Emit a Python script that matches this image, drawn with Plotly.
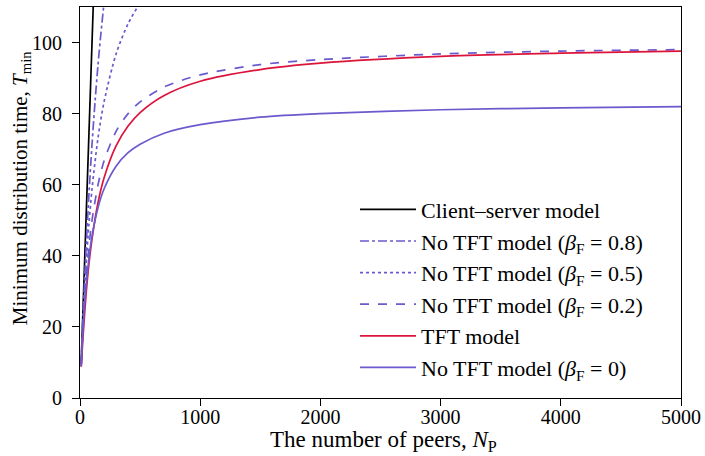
import plotly.graph_objects as go

# Number of peers (x samples)
n_peers = [10, 25, 50, 75, 100, 150, 200, 300, 400, 500, 700, 1000, 1500, 2000, 3000, 4000, 5000]

# Client-server model (straight line)
n_cs = [10, 120]
t_cs = [10, 120]

# No TFT, beta_F = 0.8 (leaves the top of the plot early)
n_b08 = [10, 25, 50, 75, 100, 125, 150, 175, 200, 250]
t_b08 = [9.6, 22.7, 41.7, 57.7, 71.4, 83.3, 93.8, 102.9, 111.1, 125.0]

# No TFT, beta_F = 0.5
n_b05 = [10, 25, 50, 75, 100, 150, 200, 300, 400, 500, 600, 700]
t_b05 = [9.4, 21.3, 37.0, 49.2, 58.8, 73.2, 83.3, 96.8, 105.3, 111.1, 115.4, 118.6]

# No TFT, beta_F = 0.2
t_b02 = [9.1, 20.0, 33.3, 42.9, 50.0, 60.0, 66.7, 75.0, 80.0, 83.3, 87.5, 90.9, 93.8, 95.2, 96.8, 97.6, 98.0]

# TFT model
t_tft = [8.8, 17.2, 28.9, 37.9, 44.8, 55.0, 61.9, 70.9, 76.5, 80.3, 85.1, 89.1, 92.4, 94.2, 96.1, 97.0, 97.6]

# No TFT, beta_F = 0
t_b00 = [8.9, 19.2, 31.3, 39.5, 45.5, 53.6, 58.8, 65.2, 69.0, 71.4, 74.5, 76.9, 79.0, 80.0, 81.1, 81.6, 82.0]

x_ticks = [0, 1000, 2000, 3000, 4000, 5000]
y_ticks = [0, 20, 40, 60, 80, 100]

x_title = "The number of peers, <i>N</i><sub>P</sub>"
y_title = "Minimum distribution time, <i>T</i><sub>min</sub>"

PURPLE = "#6a5acd"
RED = "#dc143c"
FONT = "Liberation Serif"

fig = go.Figure()
series = [
    (n_cs, t_cs, "Client\u2013server model", "black", "solid"),
    (n_b08, t_b08, "No TFT model (<i>\u03b2</i><sub>F</sub> = 0.8)", PURPLE, "dashdot"),
    (n_b05, t_b05, "No TFT model (<i>\u03b2</i><sub>F</sub> = 0.5)", PURPLE, "dot"),
    (n_peers, t_b02, "No TFT model (<i>\u03b2</i><sub>F</sub> = 0.2)", PURPLE, "dash"),
    (n_peers, t_tft, "TFT model", RED, "solid"),
    (n_peers, t_b00, "No TFT model (<i>\u03b2</i><sub>F</sub> = 0)", PURPLE, "solid"),
]
for i, (xs, ys, name, color, dash) in enumerate(series):
    fig.add_trace(go.Scatter(
        x=xs, y=ys, mode="lines", name=name, legendgroup=f"g{i}",
        line=dict(color=color, width=1.7, dash=dash, shape="spline", smoothing=0.8),
    ))

axis_common = dict(
    showline=True, linecolor="black", linewidth=1.2, mirror=True,
    ticks="outside", ticklen=7, tickwidth=1.2, tickcolor="black",
    showgrid=False, zeroline=False, automargin=False,
    tickfont=dict(family=FONT, size=20, color="black"),
)

fig.update_layout(
    width=705, height=456,
    margin=dict(l=80, r=24, t=7, b=58),
    paper_bgcolor="white", plot_bgcolor="white",
    font=dict(family=FONT, size=20, color="black"),
    xaxis=dict(range=[0, 5000], tickvals=x_ticks, ticklabelstandoff=-6, **axis_common),
    yaxis=dict(range=[0, 110], tickvals=y_ticks, ticklabelstandoff=6, **axis_common),
    legend=dict(x=0.4576, y=0.5355, xanchor="left", yanchor="top",
                bgcolor="rgba(0,0,0,0)", borderwidth=0, itemwidth=56,
                font=dict(family=FONT, size=22), tracegroupgap=0),
    showlegend=True,
)

fig.add_annotation(text=x_title, xref="paper", yref="paper", x=0.505, y=-0.109,
                   xanchor="center", yanchor="middle", showarrow=False,
                   font=dict(family=FONT, size=23, color="black"))
fig.add_annotation(text=y_title, xref="paper", yref="paper", x=-0.098, y=0.537,
                   xanchor="center", yanchor="middle", showarrow=False, textangle=-90,
                   font=dict(family=FONT, size=21, color="black"))

fig.write_html("out.html")
